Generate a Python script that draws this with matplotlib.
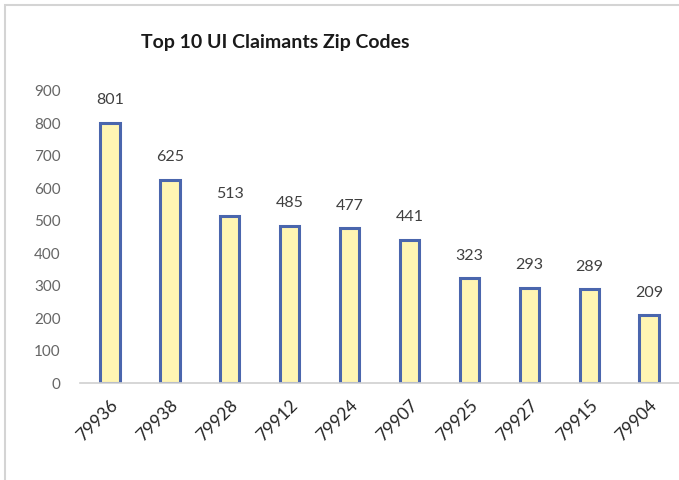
import numpy as np
import matplotlib
matplotlib.use("Agg")
import matplotlib.pyplot as plt
from matplotlib.patches import Rectangle

# chart data
zip_codes = ["79936", "79938", "79928", "79912", "79924",
             "79907", "79925", "79927", "79915", "79904"]
claimants = [801, 625, 513, 485, 477, 441, 323, 293, 289, 209]
y_ticks = [0, 100, 200, 300, 400, 500, 600, 700, 800, 900]

plt.rcParams['font.family'] = ['Lato', 'DejaVu Sans']

fig = plt.figure(figsize=(6.79, 4.80), dpi=100)
ax = fig.add_axes([0.118, 0.202, 0.882, 0.609])

# outer chart frame
fig.patches.append(Rectangle((0.008, -0.02), 1.1, 1.01, transform=fig.transFigure,
                             fill=False, edgecolor='#d4d4d4', linewidth=1.5))

x = np.arange(len(zip_codes))
bars = ax.bar(x, claimants, width=0.32, color='#fff5b3', edgecolor='#4a66ad', linewidth=2.2)

for xi, v in zip(x, claimants):
    ax.text(xi, v + 48, str(v), ha='center', va='bottom', fontsize=11.5, color='#404040')

ax.set_xlim(-0.5, len(zip_codes) - 0.5)
ax.set_ylim(0, 900)
ax.set_yticks(y_ticks)
ax.tick_params(axis='y', length=0, pad=14, labelsize=11, labelcolor='#666666')
ax.set_xticks(x)
ax.set_xticklabels(zip_codes, rotation=45, ha='right', rotation_mode='anchor',
                   fontsize=12.5, color='#262626')
ax.tick_params(axis='x', length=0, pad=10)

for s in ['top', 'right', 'left']:
    ax.spines[s].set_visible(False)
ax.spines['bottom'].set_color('#d0d0d0')
ax.spines['bottom'].set_linewidth(1.2)

fig.text(0.405, 0.912, "Top 10 UI Claimants Zip Codes", ha='center', va='center',
         fontsize=14, fontweight='bold', color='#1a1a1a')

fig.savefig("out.png", dpi=100)
